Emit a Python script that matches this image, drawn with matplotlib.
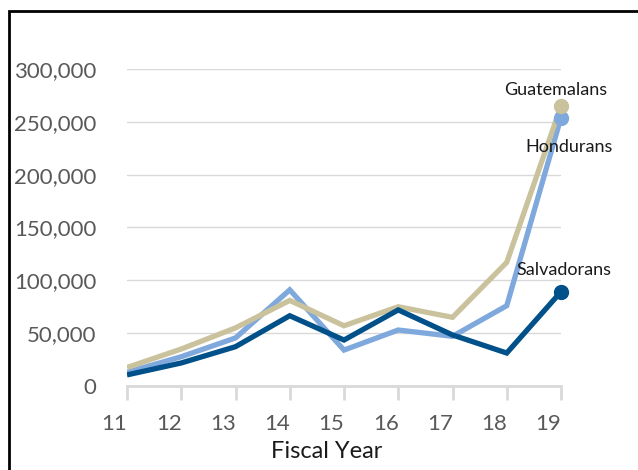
import numpy as np
import matplotlib.pyplot as plt
import matplotlib.transforms as mtransforms
from matplotlib.patches import Rectangle

plt.rcParams['font.family'] = ['Lato', 'DejaVu Sans']

years = [11, 12, 13, 14, 15, 16, 17, 18, 19]
hondurans = [13000, 27700, 45500, 91000, 34000, 53000, 47000, 76000, 254000]
guatemalans = [17500, 35000, 55000, 81000, 57000, 75000, 65000, 117000, 265000]
salvadorans = [10500, 21800, 37200, 66500, 43500, 72000, 48300, 31200, 89200]

series = [
    ('Hondurans', hondurans, '#7FA8DC'),
    ('Guatemalans', guatemalans, '#C9C29C'),
    ('Salvadorans', salvadorans, '#00508A'),
]

fig = plt.figure(figsize=(6.38, 4.70), dpi=100)
ax = fig.add_axes([127 / 638, 1 - 386 / 470, (561 - 127) / 638, (386 - 69) / 470])

for name, vals, col in series:
    ax.plot(years, vals, color=col, linewidth=3.8, solid_joinstyle='miter',
            solid_capstyle='butt', zorder=3)
    ax.plot(years[-1], vals[-1], 'o', color=col, markersize=10, zorder=4,
            clip_on=False)

ax.set_xlim(11, 19)
ax.set_ylim(0, 300000)
ax.set_yticks(np.arange(0, 300001, 50000))
ax.set_yticklabels([f'{v:,}' for v in range(0, 300001, 50000)])
ax.set_xticks(years)
ax.set_xticklabels([str(y) for y in years])

ax.grid(axis='y', color='#D9D9D9', linewidth=1)
ax.set_axisbelow(True)
for s in ['top', 'right', 'left']:
    ax.spines[s].set_visible(False)
ax.spines['bottom'].set_color('#D9D9D9')
ax.spines['bottom'].set_linewidth(2)

ax.tick_params(axis='y', length=0, pad=22, labelsize=16, labelcolor='#595959')
ax.tick_params(axis='x', length=10, width=2, color='#D9D9D9', pad=10,
               labelsize=16, labelcolor='#595959')
offset = mtransforms.ScaledTranslation(-0.125, 0, fig.dpi_scale_trans)
for lab in ax.get_xticklabels():
    lab.set_transform(lab.get_transform() + offset)

ax.set_xlabel('Fiscal Year', fontsize=17, color='#1a1a1a')
ax.xaxis.set_label_coords(0.461, -0.172)

ax.text(18.9, 280000, 'Guatemalans', fontsize=13, color='#1a1a1a',
        ha='center', va='center')
ax.text(19.15, 226000, 'Hondurans', fontsize=13, color='#1a1a1a',
        ha='center', va='center')
ax.text(19.05, 110000, 'Salvadorans', fontsize=13, color='#1a1a1a',
        ha='center', va='center')

# black frame around the chart area
fig.patches.append(Rectangle((9 / 638, -0.05), 1.0, 1 - 11 / 470 + 0.05,
                             transform=fig.transFigure, fill=False,
                             edgecolor='black', linewidth=2))

fig.savefig('out.png', dpi=100)
